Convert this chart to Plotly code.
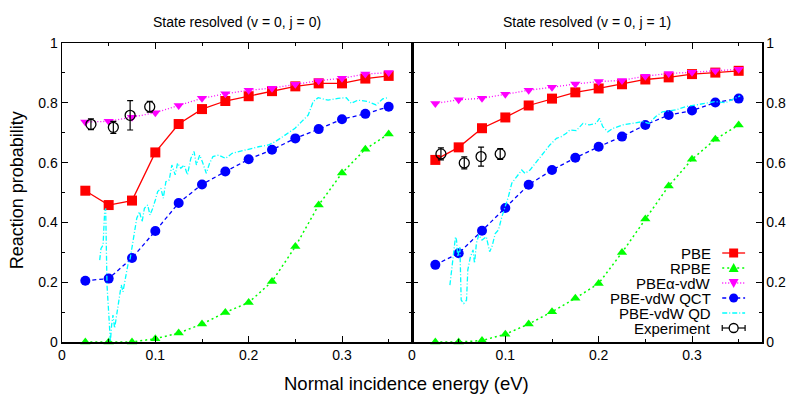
import plotly.graph_objects as go

# ---------------- data ----------------
energies = [0.025, 0.05, 0.075, 0.1, 0.125, 0.15, 0.175, 0.2, 0.225, 0.25, 0.275, 0.3, 0.325, 0.35]

# left panel: v=0, j=0
left_pbe = [0.506, 0.458, 0.473, 0.634, 0.729, 0.779, 0.806, 0.822, 0.839, 0.855, 0.865, 0.865, 0.881, 0.890]
left_rpbe = [0.0, 0.0, 0.0, 0.011, 0.030, 0.060, 0.099, 0.132, 0.202, 0.319, 0.458, 0.565, 0.645, 0.696]
left_alpha = [0.736, 0.738, 0.752, 0.767, 0.791, 0.815, 0.830, 0.842, 0.849, 0.862, 0.874, 0.882, 0.896, 0.901]
left_qct = [0.205, 0.212, 0.281, 0.371, 0.465, 0.527, 0.570, 0.611, 0.643, 0.681, 0.712, 0.745, 0.763, 0.787]
left_qd_e = [0.0404, 0.0418, 0.044, 0.0457, 0.0468, 0.0482, 0.0504, 0.0518, 0.0532, 0.0546, 0.0564,
             0.0589, 0.061, 0.0635, 0.0653, 0.0681, 0.0706, 0.0731, 0.0752, 0.0777, 0.0801, 0.083,
             0.0858, 0.0883, 0.0918, 0.0943, 0.0972, 0.1, 0.1025, 0.106, 0.1085, 0.1113, 0.1149,
             0.1177, 0.1213, 0.1238, 0.1273, 0.1309, 0.1344, 0.138, 0.1415, 0.144, 0.1475, 0.1504,
             0.1546, 0.1581, 0.1617, 0.1681, 0.1752, 0.1823, 0.1894, 0.1965, 0.2035, 0.2106, 0.2213,
             0.2284, 0.239, 0.2497, 0.2567, 0.2638, 0.2691, 0.2745, 0.2851, 0.2957, 0.3046, 0.3099,
             0.317, 0.3277, 0.3365, 0.3436, 0.3489]
left_qd_p = [0.274, 0.313, 0.324, 0.436, 0.447, 0.191, 0.079, 0.001, 0.057, 0.090, 0.046,
             0.101, 0.146, 0.191, 0.168, 0.224, 0.258, 0.280, 0.324, 0.380, 0.414, 0.436,
             0.402, 0.447, 0.458, 0.425, 0.447, 0.475, 0.503, 0.514, 0.481, 0.536, 0.542,
             0.592, 0.559, 0.598, 0.581, 0.592, 0.559, 0.614, 0.637, 0.592, 0.625, 0.603,
             0.564, 0.598, 0.620, 0.625, 0.614, 0.631, 0.637, 0.642, 0.648, 0.653, 0.659,
             0.670, 0.692, 0.715, 0.737, 0.759, 0.804, 0.817, 0.809, 0.815, 0.817, 0.798,
             0.809, 0.804, 0.793, 0.813, 0.817]
left_exp_e = [0.031, 0.055, 0.073, 0.094]
left_exp_p = [0.728, 0.718, 0.758, 0.787]
left_exp_err = [0.018, 0.020, 0.049, 0.018]

# right panel: v=0, j=1
right_pbe = [0.609, 0.651, 0.715, 0.751, 0.791, 0.814, 0.835, 0.848, 0.862, 0.878, 0.885, 0.896, 0.901, 0.907]
right_rpbe = [0.0, 0.0, 0.005, 0.026, 0.060, 0.101, 0.146, 0.196, 0.299, 0.411, 0.522, 0.611, 0.678, 0.726]
right_alpha = [0.798, 0.810, 0.815, 0.829, 0.842, 0.852, 0.863, 0.871, 0.875, 0.889, 0.898, 0.902, 0.907, 0.912]
right_qct = [0.258, 0.297, 0.372, 0.448, 0.526, 0.575, 0.616, 0.653, 0.687, 0.726, 0.759, 0.774, 0.801, 0.814]
right_qd_e = [0.0406, 0.0466, 0.0477, 0.049, 0.0513, 0.0527, 0.0555, 0.0584, 0.0598, 0.0626, 0.0654,
              0.067, 0.069, 0.0715, 0.075, 0.0796, 0.0832, 0.0857, 0.0892, 0.0927, 0.0963, 0.0998,
              0.1033, 0.1069, 0.1122, 0.1176, 0.1211, 0.1264, 0.1335, 0.1406, 0.1477, 0.1548, 0.16,
              0.1654, 0.169, 0.176, 0.1832, 0.19, 0.1973, 0.2009, 0.2044, 0.2098, 0.215, 0.2257,
              0.2363, 0.247, 0.254, 0.2612, 0.2683, 0.2824, 0.293, 0.3037, 0.3143, 0.325, 0.3356,
              0.3463, 0.3516]
right_qd_p = [0.190, 0.352, 0.341, 0.285, 0.319, 0.140, 0.129, 0.140, 0.241, 0.285, 0.308,
              0.263, 0.330, 0.358, 0.341, 0.352, 0.302, 0.319, 0.363, 0.375, 0.419, 0.453,
              0.486, 0.531, 0.553, 0.575, 0.564, 0.575, 0.603, 0.631, 0.659, 0.681, 0.687,
              0.698, 0.709, 0.707, 0.731, 0.726, 0.731, 0.748, 0.720, 0.703, 0.714, 0.726,
              0.731, 0.737, 0.731, 0.754, 0.770, 0.776, 0.787, 0.793, 0.798, 0.804, 0.800,
              0.815, 0.823]
right_exp_e = [0.031, 0.056, 0.074, 0.0945]
right_exp_p = [0.629, 0.599, 0.620, 0.629]
right_exp_err = [0.020, 0.020, 0.032, 0.018]

panel_titles = ["State resolved (v = 0, j = 0)", "State resolved (v = 0, j = 1)"]
series_names = ["PBE", "RPBE", "PBE\u03b1-vdW", "PBE-vdW QCT", "PBE-vdW QD", "Experiment"]
x_tick_vals = [0, 0.1, 0.2, 0.3]
x_tick_text = ["0", "0.1", "0.2", "0.3"]
y_tick_vals = [0, 0.2, 0.4, 0.6, 0.8, 1.0]
y_tick_text = ["0", "0.2", "0.4", "0.6", "0.8", "1"]

# ---------------- styles ----------------
RED, GREEN, MAG, BLUE, CYAN = "#ff0000", "#00ff00", "#ff00ff", "#0000ff", "#00ffff"
FONT = "Liberation Sans, Arial, sans-serif"
styles = [
    dict(color=RED, dash="solid", width=1.3, symbol="square", msize=10),
    dict(color=GREEN, dash="2px,3px", width=1.5, symbol="triangle-up", msize=9),
    dict(color=MAG, dash="1px,2px", width=1.3, symbol="triangle-down", msize=9),
    dict(color=BLUE, dash="4px,3px", width=1.3, symbol="circle", msize=10),
]

fig = go.Figure()


def add_panel(xa, ya, pbe, rpbe, alpha, qct, qd_e, qd_p, ex_e, ex_p, ex_err):
    for vals, st in zip([pbe, rpbe, alpha, qct], styles):
        fig.add_trace(go.Scatter(
            x=energies, y=vals, mode="lines+markers", xaxis=xa, yaxis=ya,
            line=dict(color=st["color"], dash=st["dash"], width=st["width"]),
            marker=dict(symbol=st["symbol"], size=st["msize"], color=st["color"]),
            showlegend=False, cliponaxis=False))
    fig.add_trace(go.Scatter(
        x=qd_e, y=qd_p, mode="lines", xaxis=xa, yaxis=ya,
        line=dict(color=CYAN, dash="5px,2px,1px,2px", width=1.3), showlegend=False))
    fig.add_trace(go.Scatter(
        x=ex_e, y=ex_p, mode="markers", xaxis=xa, yaxis=ya,
        marker=dict(symbol="circle-open", size=10, color="black", line=dict(width=1.3)),
        error_y=dict(type="data", array=ex_err, color="black", thickness=1.2, width=3),
        showlegend=False))


add_panel("x", "y", left_pbe, left_rpbe, left_alpha, left_qct, left_qd_e, left_qd_p,
          left_exp_e, left_exp_p, left_exp_err)
add_panel("x2", "y2", right_pbe, right_rpbe, right_alpha, right_qct, right_qd_e, right_qd_p,
          right_exp_e, right_exp_p, right_exp_err)

axis_common = dict(
    showline=True, linecolor="black", linewidth=1.5, mirror="allticks",
    ticks="inside", ticklen=6, tickwidth=1, tickcolor="black",
    showgrid=False, zeroline=False,
    tickfont=dict(family=FONT, size=14, color="black"),
)
xcommon = dict(axis_common, range=[0, 0.375], tickmode="array", tickvals=x_tick_vals,
               ticktext=x_tick_text,
               minor=dict(dtick=0.05, tick0=0, ticks="inside", ticklen=3, tickcolor="black", showgrid=False))
ycommon = dict(axis_common, range=[0, 1], tickmode="array", tickvals=y_tick_vals,
               ticktext=y_tick_text,
               minor=dict(dtick=0.1, tick0=0, ticks="inside", ticklen=3, tickcolor="black", showgrid=False))

# ---------------- legend (drawn as layout decorations) ----------------
L, T, W, H = 62, 43, 704, 299


def fx(px):
    return (px - L) / W


def fy(py):
    return (T + H - py) / H


shapes = []
annotations = []
rows = [253, 268, 283, 298, 313, 328]
sx0, sx1, scx, text_right = 726, 749, 737.5, 717
for i, name in enumerate(series_names):
    py = rows[i]
    annotations.append(dict(text=name, x=fx(text_right), y=fy(py), xref="paper", yref="paper",
                            xanchor="right", yanchor="middle", showarrow=False,
                            font=dict(family=FONT, size=15, color="black")))
    if i < 4:
        st = styles[i]
        shapes.append(dict(type="line", xref="paper", yref="paper", x0=fx(sx0), x1=fx(sx1),
                           y0=fy(py), y1=fy(py),
                           line=dict(color=st["color"], dash=st["dash"], width=st["width"])))
        r = 4.5
        if st["symbol"] == "square":
            shapes.append(dict(type="rect", xref="paper", yref="paper",
                               x0=fx(scx - r), x1=fx(scx + r), y0=fy(py + r), y1=fy(py - r),
                               fillcolor=st["color"], line=dict(width=0)))
        elif st["symbol"] == "circle":
            shapes.append(dict(type="circle", xref="paper", yref="paper",
                               x0=fx(scx - r), x1=fx(scx + r), y0=fy(py + r), y1=fy(py - r),
                               fillcolor=st["color"], line=dict(width=0)))
        elif st["symbol"] == "triangle-up":
            path = "M {} {} L {} {} L {} {} Z".format(fx(scx - 5), fy(py + 4), fx(scx + 5), fy(py + 4),
                                                     fx(scx), fy(py - 5))
            shapes.append(dict(type="path", xref="paper", yref="paper", path=path,
                               fillcolor=st["color"], line=dict(width=0)))
        else:
            path = "M {} {} L {} {} L {} {} Z".format(fx(scx - 5), fy(py - 4), fx(scx + 5), fy(py - 4),
                                                     fx(scx), fy(py + 5))
            shapes.append(dict(type="path", xref="paper", yref="paper", path=path,
                               fillcolor=st["color"], line=dict(width=0)))
    elif i == 4:
        shapes.append(dict(type="line", xref="paper", yref="paper", x0=fx(sx0), x1=fx(sx1),
                           y0=fy(py), y1=fy(py),
                           line=dict(color=CYAN, dash="5px,2px,1px,2px", width=1.3)))
    else:
        shapes.append(dict(type="line", xref="paper", yref="paper", x0=fx(sx0), x1=fx(sx1),
                           y0=fy(py), y1=fy(py), line=dict(color="black", width=1.2)))
        for ex in (sx0, sx1):
            shapes.append(dict(type="line", xref="paper", yref="paper", x0=fx(ex), x1=fx(ex),
                               y0=fy(py - 3), y1=fy(py + 3), line=dict(color="black", width=1.2)))
        shapes.append(dict(type="circle", xref="paper", yref="paper",
                           x0=fx(scx - 4.5), x1=fx(scx + 4.5), y0=fy(py + 4.5), y1=fy(py - 4.5),
                           fillcolor="white", line=dict(color="black", width=1.3)))

# panel titles and axis titles
annotations.append(dict(text=panel_titles[0], x=0.25, y=fy(22), xref="paper", yref="paper",
                        xanchor="center", yanchor="middle", showarrow=False,
                        font=dict(family=FONT, size=14, color="black")))
annotations.append(dict(text=panel_titles[1], x=0.75, y=fy(22), xref="paper", yref="paper",
                        xanchor="center", yanchor="middle", showarrow=False,
                        font=dict(family=FONT, size=14, color="black")))
annotations.append(dict(text="Normal incidence energy (eV)", x=fx(408), y=fy(383), xref="paper",
                        yref="paper", xanchor="center", yanchor="middle", showarrow=False,
                        font=dict(family=FONT, size=18.5, color="black")))
annotations.append(dict(text="Reaction probability", x=fx(17), y=fy(190), xref="paper",
                        yref="paper", xanchor="center", yanchor="middle", showarrow=False,
                        textangle=-90, font=dict(family=FONT, size=18, color="black")))

fig.update_layout(
    width=798, height=399,
    margin=dict(l=L, r=798 - L - W, t=T, b=399 - T - H, pad=0),
    paper_bgcolor="white", plot_bgcolor="white",
    showlegend=False,
    hovermode=False,
    xaxis=dict(xcommon, domain=[0, 0.5], anchor="y"),
    yaxis=dict(ycommon, domain=[0, 1], anchor="x", side="left"),
    xaxis2=dict(xcommon, domain=[0.5, 1], anchor="y2"),
    yaxis2=dict(ycommon, domain=[0, 1], anchor="x2", side="right"),
    shapes=shapes,
    annotations=annotations,
    font=dict(family=FONT, color="black"),
)

fig.write_html("out.html", config={"displayModeBar": False, "staticPlot": True},
               post_script="document.body.style.margin='0px';document.body.style.overflow='hidden';")
